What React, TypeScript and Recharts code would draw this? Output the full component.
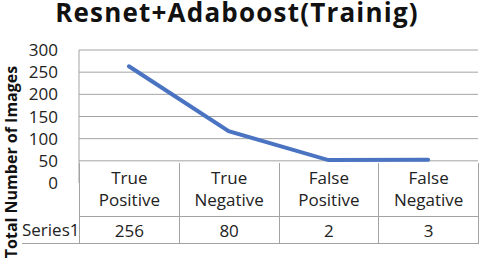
import { CartesianGrid, Line, LineChart, XAxis, YAxis } from "recharts";

const categories = ["True Positive", "True Negative", "False Positive", "False Negative"];
const headerLines = [
  ["True", "Positive"],
  ["True", "Negative"],
  ["False", "Positive"],
  ["False", "Negative"],
];
const series1 = [256, 80, 2, 3];
const seriesName = "Series1";
const yTickLabels = [0, 50, 100, 150, 200, 250, 300];
const title = "Resnet+Adaboost(Trainig)";
const yTitle = "Total Number of Images";

const data = categories.map((name, i) => ({ name, value: series1[i] }));

// the source image prints its axis labels one step below the plotted values:
// label 50 sits on the real zero line, label 0 one step lower
const yMax = yTickLabels[yTickLabels.length - 1];
const step = yTickLabels[1] - yTickLabels[0];
const yTicks = yTickLabels.map((v) => ((v - step) * yMax) / (yMax - step));
const dataMin = yTicks[0];

const FONT = "'Open Sans', 'Noto Sans', sans-serif";
const W = 480;
const H = 264;
const PLOT_L = 79;
const PLOT_R = 478;
const PLOT_T = 50;
const LABEL_B = 183;
const TABLE_T = 161;
const ROW2_T = 216;
const TABLE_B = 244;
const colW = (PLOT_R - PLOT_L) / categories.length;
const GRID = "#a3a3a3";

function YTitle() {
  return (
    <text
      x={11}
      y={162}
      transform="rotate(-90 11 162)"
      textAnchor="middle"
      dominantBaseline="central"
      fontFamily={FONT}
      fontWeight={700}
      fontSize={16}
      fill="#111"
    >
      {yTitle}
    </text>
  );
}

const cellText = {
  textAlign: "center" as const,
  fontSize: 17,
  color: "#222",
  boxSizing: "border-box" as const,
  position: "absolute" as const,
  background: "#fff",
};

export default function App() {
  return (
    <div
      style={{
        position: "absolute",
        left: 0,
        top: 0,
        width: W,
        height: H,
        background: "#fff",
        fontFamily: FONT,
        overflow: "hidden",
      }}
    >
      <svg
        width={W}
        height={40}
        style={{ position: "absolute", left: 0, top: 0 }}
      >
        <text
          x={237}
          y={22}
          textAnchor="middle"
          fontFamily={FONT}
          fontSize={26}
          fontWeight={700}
          letterSpacing={1.2}
          fill="#111"
        >
          {title}
        </text>
      </svg>

      <div style={{ position: "absolute", left: 0, top: 0 }}>
        <LineChart
          width={W}
          height={H}
          data={data}
          margin={{ top: PLOT_T, right: W - PLOT_R, bottom: H - LABEL_B, left: 0 }}
        >
          <CartesianGrid vertical={false} stroke={GRID} />
          <XAxis
            dataKey="name"
            hide
            padding={{ left: colW / 2, right: colW / 2 }}
          />
          <YAxis
            width={PLOT_L}
            domain={[dataMin, yMax]}
            ticks={yTicks}
            interval={0}
            tickLine={false}
            tickSize={0}
            tickMargin={21}
            tickFormatter={(_v: number, i: number) => String(yTickLabels[i])}
            axisLine={{ stroke: GRID }}
            tick={{ fontSize: 17, fill: "#222", fontFamily: FONT }}
            label={<YTitle />}
          />
          <Line
            dataKey="value"
            name={seriesName}
            stroke="#4a74c2"
            strokeWidth={4}
            strokeLinecap="round"
            dot={false}
            isAnimationActive={false}
          />
        </LineChart>
      </div>

      {/* data table under the plot */}
      {headerLines.map((lines, i) => (
        <div
          key={categories[i]}
          style={{
            ...cellText,
            left: PLOT_L + i * colW,
            top: TABLE_T + 2,
            width: colW + (i === categories.length - 1 ? 1 : 0),
            height: ROW2_T - TABLE_T - 2,
            borderLeft: `1px solid ${GRID}`,
            borderRight: i === categories.length - 1 ? `1px solid ${GRID}` : undefined,
            lineHeight: "22px",
            paddingTop: 4,
          }}
        >
          {lines.map((l) => (
            <div key={l}>{l}</div>
          ))}
        </div>
      ))}
      <div
        style={{
          ...cellText,
          left: 22,
          top: ROW2_T,
          width: PLOT_L - 22,
          height: TABLE_B - ROW2_T,
          borderBottom: `1px solid ${GRID}`,
          lineHeight: "27px",
        }}
      >
        {seriesName}
      </div>
      {series1.map((v, i) => (
        <div
          key={categories[i]}
          style={{
            ...cellText,
            left: PLOT_L + i * colW,
            top: ROW2_T,
            width: colW + (i === categories.length - 1 ? 1 : 0),
            height: TABLE_B - ROW2_T,
            borderLeft: `1px solid ${GRID}`,
            borderTop: `1px solid ${GRID}`,
            borderBottom: `1px solid ${GRID}`,
            borderRight: i === categories.length - 1 ? `1px solid ${GRID}` : undefined,
            lineHeight: "27px",
          }}
        >
          {v}
        </div>
      ))}
    </div>
  );
}
